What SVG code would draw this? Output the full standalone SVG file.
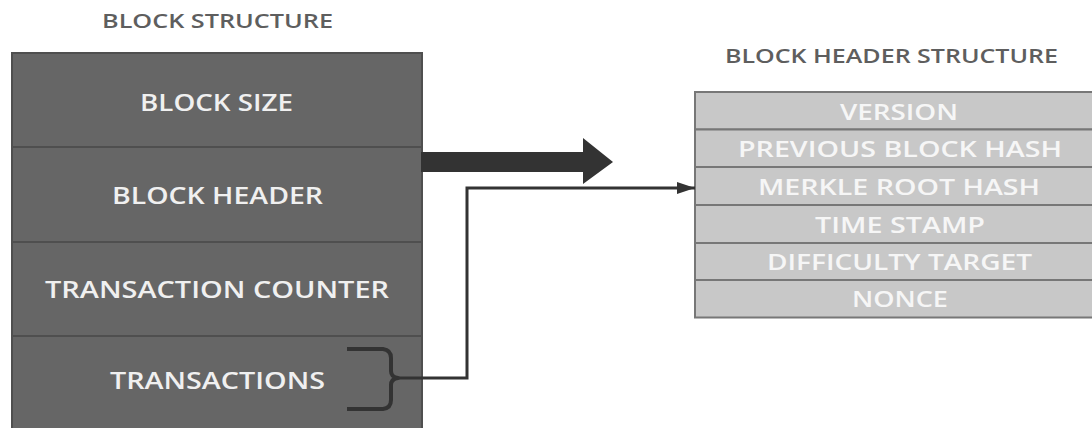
<svg xmlns="http://www.w3.org/2000/svg" width="1092" height="428" viewBox="0 0 1092 428">
<style>
text{font-family:"Open Sans","Liberation Sans",sans-serif;font-weight:600;text-anchor:middle}
.title{font-size:20px;fill:#5e5e5e}
.lt{font-size:22.5px;fill:#f0f0f0}
.rt{font-size:21px;fill:#f6f6f6}
.lbox{fill:#666666;stroke:#4f4f4f;stroke-width:2}
.rbox{fill:#c8c8c8;stroke:#777777;stroke-width:2}
.conn{fill:none;stroke:#333333;stroke-width:4;stroke-linejoin:round;stroke-linecap:butt}
</style>
<defs>
<marker id="ah" markerWidth="18" markerHeight="12" refX="18" refY="6" orient="auto" markerUnits="userSpaceOnUse">
<path d="M0,0 L18,6 L0,12 Z" fill="#333333"/>
</marker>
</defs>
<rect width="1092" height="428" fill="#ffffff"/>
<text class="title" x="217.5" y="27.5" textLength="231" lengthAdjust="spacingAndGlyphs">BLOCK STRUCTURE</text>
<text class="title" x="891.5" y="63" textLength="333" lengthAdjust="spacingAndGlyphs">BLOCK HEADER STRUCTURE</text>
<g id="block-size"><rect class="lbox" x="12" y="53" width="410" height="94"/><text class="lt" x="216.5" y="111" textLength="153" lengthAdjust="spacingAndGlyphs">BLOCK SIZE</text></g>
<g id="block-header"><rect class="lbox" x="12" y="147" width="410" height="95"/><text class="lt" x="217.5" y="204" textLength="211" lengthAdjust="spacingAndGlyphs">BLOCK HEADER</text></g>
<g id="transaction-counter"><rect class="lbox" x="12" y="242" width="410" height="94"/><text class="lt" x="217" y="298" textLength="344" lengthAdjust="spacingAndGlyphs">TRANSACTION COUNTER</text></g>
<g id="transactions"><rect class="lbox" x="12" y="336" width="410" height="96"/><text class="lt" x="217.5" y="389" textLength="215" lengthAdjust="spacingAndGlyphs">TRANSACTIONS</text></g>
<g id="version"><rect class="rbox" x="695" y="92" width="398" height="37.5"/><text class="rt" x="899" y="120" textLength="118" lengthAdjust="spacingAndGlyphs">VERSION</text></g>
<g id="previous-block-hash"><rect class="rbox" x="695" y="129.5" width="398" height="37.5"/><text class="rt" x="900" y="157" textLength="324" lengthAdjust="spacingAndGlyphs">PREVIOUS BLOCK HASH</text></g>
<g id="merkle-root-hash"><rect class="rbox" x="695" y="167" width="398" height="38"/><text class="rt" x="899" y="195" textLength="282" lengthAdjust="spacingAndGlyphs">MERKLE ROOT HASH</text></g>
<g id="time-stamp"><rect class="rbox" x="695" y="205" width="398" height="38"/><text class="rt" x="900" y="233" textLength="170" lengthAdjust="spacingAndGlyphs">TIME STAMP</text></g>
<g id="difficulty-target"><rect class="rbox" x="695" y="243" width="398" height="37"/><text class="rt" x="899.5" y="270" textLength="265" lengthAdjust="spacingAndGlyphs">DIFFICULTY TARGET</text></g>
<g id="nonce"><rect class="rbox" x="695" y="280" width="398" height="37.5"/><text class="rt" x="900" y="307" textLength="96" lengthAdjust="spacingAndGlyphs">NONCE</text></g>
<g id="connectors">
<path d="M421,152 L583,152 L583,138 L613,162 L583,184 L583,172 L421,172 Z" fill="#333333"/>
<path class="conn" d="M347,349 L383,349 Q391,350 391,358 L391,371 Q391,377 398,378 Q391,379 391,385 L391,400 Q391,408 383,409 L347,409"/>
<path d="M396,378 L467,378 L467,188 L695,188" fill="none" stroke="#333333" stroke-width="3" marker-end="url(#ah)"/>
</g>
</svg>
